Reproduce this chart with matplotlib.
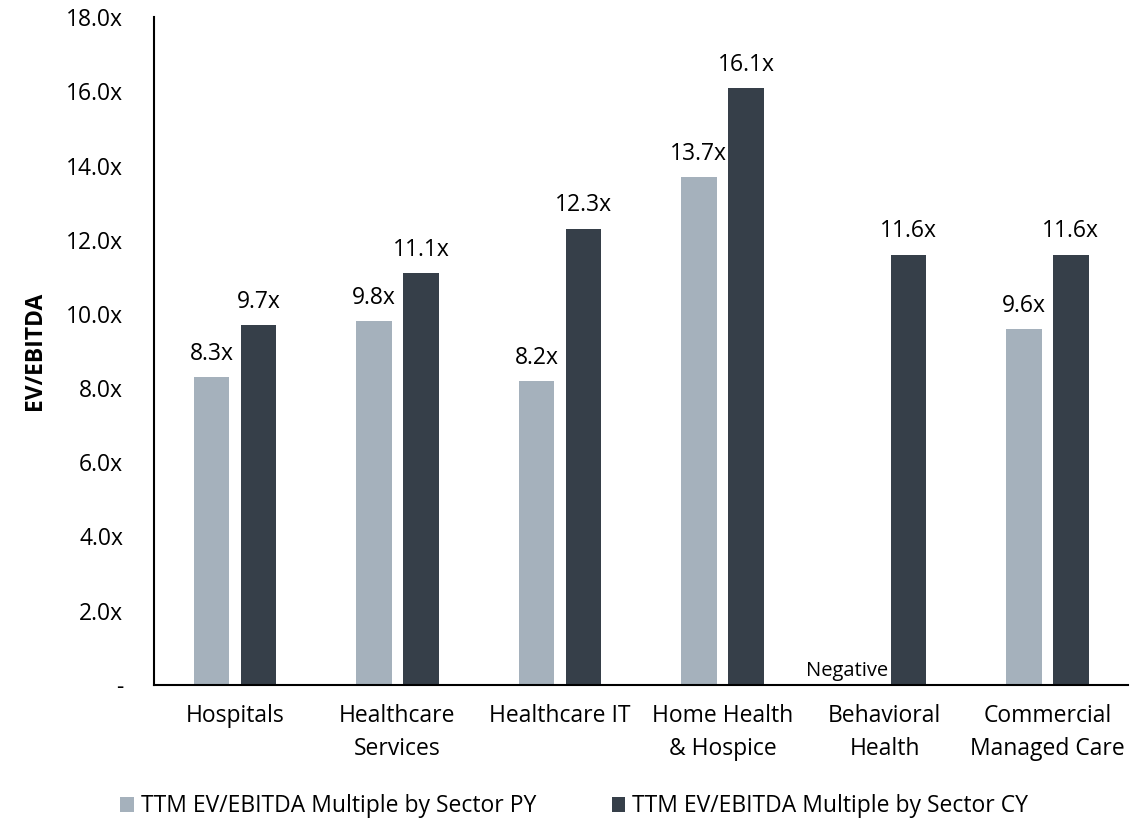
import numpy as np
import matplotlib.pyplot as plt
from matplotlib.ticker import FuncFormatter

plt.rcParams['font.family'] = ['Open Sans', 'DejaVu Sans']

# data
sectors = ["Hospitals", "Healthcare\nServices", "Healthcare IT", "Home Health\n& Hospice",
           "Behavioral\nHealth", "Commercial\nManaged Care"]
py_vals = [8.3, 9.8, 8.2, 13.7, np.nan, 9.6]  # behavioral health PY was negative
cy_vals = [9.7, 11.1, 12.3, 16.1, 11.6, 11.6]
py_name = "TTM EV/EBITDA Multiple by Sector PY"
cy_name = "TTM EV/EBITDA Multiple by Sector CY"

py_color = '#A5B1BC'
cy_color = '#363F49'
fs = 16.5

fig = plt.figure(figsize=(11.48, 8.21), dpi=100)
ax = fig.add_axes([0.134, 0.166, 0.849, 0.813])

x = np.arange(len(sectors))
w = 0.22
off = 0.145

py_bars = ax.bar(x - off, np.nan_to_num(py_vals), w, color=py_color, label=py_name)
cy_bars = ax.bar(x + off, cy_vals, w, color=cy_color, label=cy_name)

# value labels above bars
for xi, v in zip(x, py_vals):
    if np.isnan(v):
        # sits at the base, just left of the CY bar
        ax.annotate("Negative", (xi + off - w / 2, 0), xytext=(-2, 3), textcoords='offset points',
                    ha='right', va='bottom', fontsize=14.5)
    else:
        ax.annotate(f"{v:.1f}x", (xi - off, v), xytext=(0, 8), textcoords='offset points',
                    ha='center', va='bottom', fontsize=fs)
for xi, v in zip(x, cy_vals):
    ax.annotate(f"{v:.1f}x", (xi + off, v), xytext=(0, 8), textcoords='offset points',
                ha='center', va='bottom', fontsize=fs)

ax.set_xlim(-0.5, len(sectors) - 0.5)
ax.set_ylim(0, 18)
ax.set_yticks(np.arange(0, 19, 2))
ax.yaxis.set_major_formatter(FuncFormatter(lambda v, p: "-" if v == 0 else f"{v:.1f}x"))
ax.set_xticks(x)
ax.set_xticklabels(sectors, fontsize=fs, linespacing=1.5)
ax.tick_params(axis='y', length=0, pad=22, labelsize=fs)
ax.tick_params(axis='x', length=0, pad=14)
ax.set_ylabel("EV/EBITDA", fontsize=fs, fontweight='bold', labelpad=14)

for s in ['top', 'right']:
    ax.spines[s].set_visible(False)
ax.spines['left'].set_linewidth(1.5)
ax.spines['bottom'].set_linewidth(1.5)

fig.legend(handles=[py_bars, cy_bars], loc='lower center', bbox_to_anchor=(0.5, -0.022),
           ncol=2, frameon=False, fontsize=fs, handlelength=0.6, handleheight=0.6,
           handletextpad=0.3, columnspacing=3.3)

fig.savefig("out.png", dpi=100)
